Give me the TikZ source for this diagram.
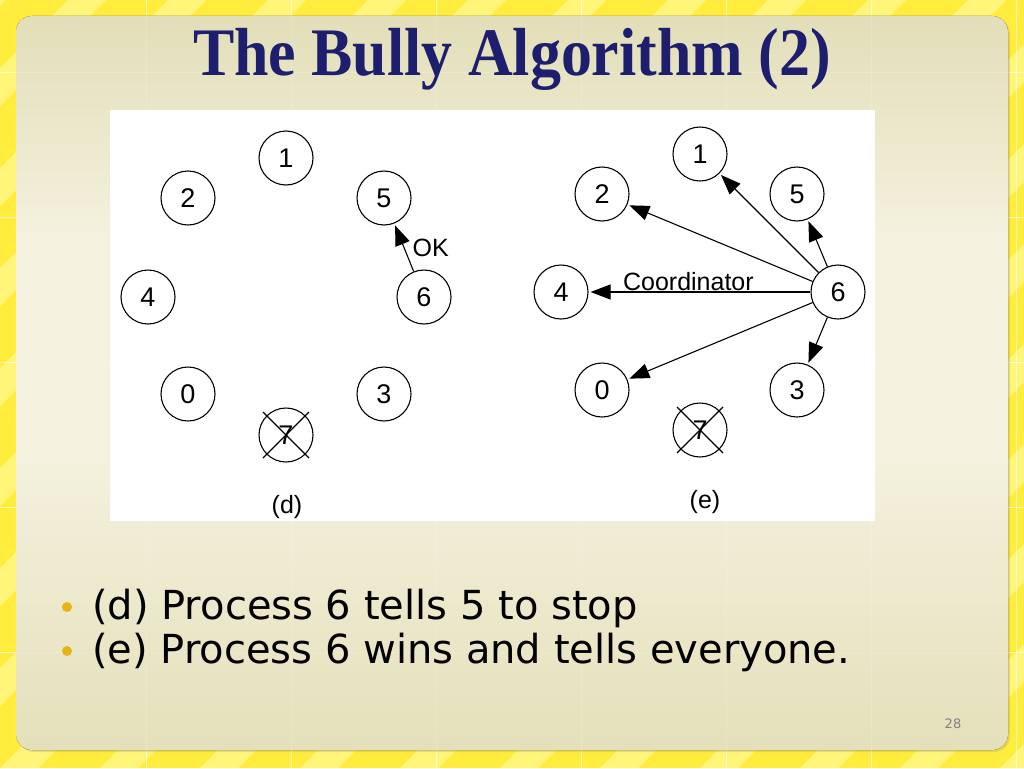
\documentclass[tikz,border=0pt]{standalone}
\usepackage{fontspec}
\setmainfont{Liberation Serif}
\newfontfamily\titlefont[FakeStretch=0.91]{Liberation Serif}
\newfontfamily\figfont{Liberation Sans}
\newfontfamily\bodyfont{DejaVu Sans}
\usetikzlibrary{arrows.meta,shadows}
\definecolor{titleblue}{RGB}{30,30,110}
\definecolor{slideyellow}{RGB}{255,236,60}
\definecolor{stripeyellow}{RGB}{255,245,120}
\definecolor{paneltop}{RGB}{200,196,132}
\definecolor{panelupper}{RGB}{220,216,172}
\definecolor{panelmid}{RGB}{244,241,222}
\definecolor{panellower}{RGB}{228,224,186}
\definecolor{panelbottom}{RGB}{205,201,147}
\definecolor{bulletgold}{RGB}{230,180,20}
\pgfdeclareverticalshading{panelshade}{100bp}{color(0bp)=(panelbottom); color(25bp)=(panellower);
	color(45bp)=(panelmid); color(60bp)=(panelmid); color(80bp)=(panelupper); color(100bp)=(paneltop)}
\begin{document}
\begin{tikzpicture}[x=1pt, y=-1pt, line join=round, >={Triangle[length=20pt,width=15pt]},
		proc/.style={circle, draw, line width=1.1pt, minimum size=54pt, inner sep=0pt, font=\figfont\fontsize{27}{27}\selectfont},
		msg/.style={->, line width=1.1pt, shorten >=2pt},
		lbl/.style={font=\figfont\fontsize{25}{25}\selectfont},
		bullet/.style={anchor=base west, inner sep=0pt, font=\bodyfont\fontsize{40}{40}\selectfont}]
			\def\c{23}
			% slide background
			\useasboundingbox (0,0) rectangle (1024,768);
			\fill[slideyellow] (0,0) rectangle (1024,768);
			\begin{scope}
				\clip (0,0) rectangle (1024,768);
				\foreach \s in {-800,-700,...,1100}
					\fill[stripeyellow] (\s,768) -- ++(38,0) -- ++(768,-768) -- ++(-38,0) -- cycle;
			\end{scope}
			\foreach \g in {146,291,436,581,726,871,1016}
				\draw[white, opacity=0.6] (\g,0) -- (\g,768);
			\foreach \g in {72,217,362,507,652}
				\draw[white, opacity=0.6] (0,\g) -- (1024,\g);
			\fill[shading=panelshade, rounded corners=16pt, drop shadow={opacity=0.2, shadow xshift=2pt, shadow yshift=-2pt}] (16,16) rectangle (1008,750);
			\begin{scope}
				\clip[rounded corners=16pt] (16,16) rectangle (1008,750);
				\foreach \g in {146,291,436,581,726,871}
					\draw[white, opacity=0.15] (\g,0) -- (\g,768);
				\foreach \g in {72,217,362,507,652}
					\draw[white, opacity=0.15] (0,\g) -- (1024,\g);
			\end{scope}
			\node[anchor=base, inner sep=0pt, font=\titlefont\bfseries\fontsize{68}{68}\selectfont, text=titleblue] (title) at (512,75) {The Bully Algorithm (2)};
			\fill[white] (110,110) rectangle (875,521);
			% (d)
			\begin{scope}
				\node[proc] (d1) at (286,158) {1};
				\node[proc] (d2) at (188,198) {2};
				\node[proc] (d5) at (384,198) {5};
				\node[proc] (d4) at (148,297) {4};
				\node[proc] (d6) at (424,297) {6};
				\node[proc] (d0) at (188,394) {0};
				\node[proc] (d3) at (384,394) {3};
				\node[proc] (d7) at (286,435) {7};
				\draw[line width=1.1pt] ([shift={(-\c,-\c)}]d7.center) -- ([shift={(\c,\c)}]d7.center)
				([shift={(\c,-\c)}]d7.center) -- ([shift={(-\c,\c)}]d7.center);
				\draw[msg] (d6) -- node[lbl, right, pos=0.5, inner sep=8pt]{OK} (d5);
				\node[lbl] (capd) at (287,507) {(d)};
			\end{scope}
			% (e)
			\begin{scope}
				\node[proc] (e1) at (700,154) {1};
				\node[proc] (e2) at (602,194) {2};
				\node[proc] (e5) at (797,194) {5};
				\node[proc] (e4) at (561,292) {4};
				\node[proc] (e6) at (838,292) {6};
				\node[proc] (e0) at (602,390) {0};
				\node[proc] (e3) at (797,390) {3};
				\node[proc] (e7) at (700,430) {7};
				\draw[line width=1.1pt] ([shift={(-\c,-\c)}]e7.center) -- ([shift={(\c,\c)}]e7.center)
				([shift={(\c,-\c)}]e7.center) -- ([shift={(-\c,\c)}]e7.center);
				\draw[msg] (e6) -- (e1);
				\draw[msg] (e6) -- (e2);
				\draw[msg] (e6) -- (e5);
				\draw[msg] (e6) -- node[lbl, above, pos=0.55, inner sep=1pt]{Coordinator} (e4);
				\draw[msg] (e6) -- (e0);
				\draw[msg] (e6) -- (e3);
				\node[lbl] (cape) at (705,502) {(e)};
			\end{scope}
			% bullets
			\node[bullet] (b1) at (92,619) {(d) Process 6 tells 5 to stop};
			\node[bullet] (b2) at (92,663) {(e) Process 6 wins and tells everyone.};
			\fill[bulletgold] (67,607) circle(5) (67,651) circle(5);
			\node[font=\bodyfont\fontsize{13}{13}\selectfont, text=gray] (pnum) at (953,724) {28};
		\end{tikzpicture}
\end{document}
